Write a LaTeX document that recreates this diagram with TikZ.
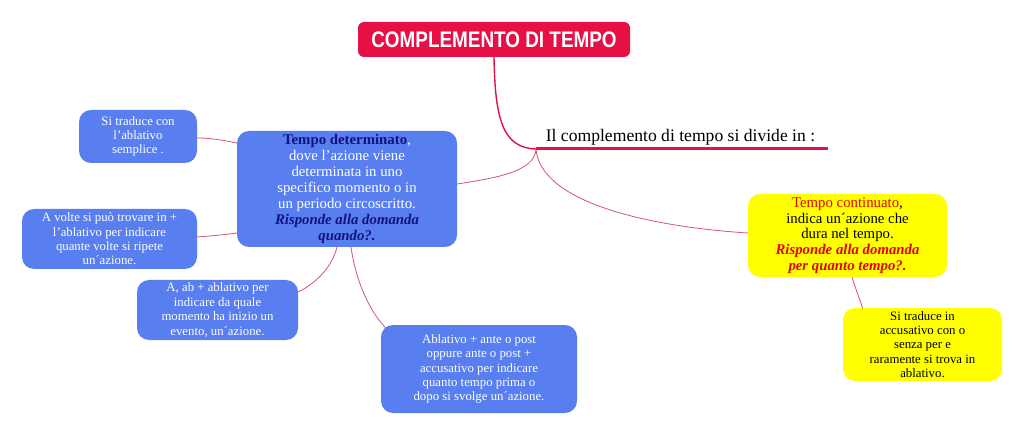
\documentclass[tikz,border=0pt]{standalone}
\usepackage{fontspec}
\setmainfont{Liberation Serif}
\newfontfamily\titlefont[FakeStretch=0.84]{Liberation Sans}
\usetikzlibrary{calc}
\definecolor{boxblue}{RGB}{88,126,240}
\definecolor{titlered}{RGB}{230,16,70}
\definecolor{linkred}{RGB}{214,84,112}
\definecolor{navy}{RGB}{18,18,128}
\definecolor{ylw}{RGB}{255,255,0}
\definecolor{txtred}{RGB}{228,0,0}
\newcommand{\navybi}[1]{\textcolor{navy}{\textbf{\textit{#1}}}}
\newcommand{\redbi}[1]{\textcolor{txtred}{\textbf{\textit{#1}}}}
\tikzset{
  bluebox/.style={fill=boxblue, rounded corners=12pt, text=white, align=center, inner sep=0pt},
  ylwbox/.style={fill=ylw, rounded corners=12pt, text=black, align=center, inner sep=0pt},
  link/.style={draw=linkred, line width=0.8pt},
  small/.style={font=\fontsize{12.8}{14.4}\selectfont},
  big/.style={font=\fontsize{14.8}{16}\selectfont}
}
\begin{document}
\begin{tikzpicture}[x=1pt,y=-1pt]
\useasboundingbox (0,0) rectangle (1024,435);
% title
\node[fill=titlered, rounded corners=6pt, minimum width=272pt, minimum height=35pt, inner sep=0pt,
  text=white, font=\titlefont\bfseries\fontsize{22.5}{24}\selectfont] (title) at (494,39.5) {COMPLEMENTO DI TEMPO};
% header
\coordinate (J) at (536,149);
\coordinate (U) at (828,149);
\node[font=\fontsize{17.6}{20}\selectfont, anchor=base, inner sep=0pt] (head) at (680.5,142) {Il complemento di tempo si divide in :};
\draw[draw=titlered, line width=3pt] (J) -- (U);
\draw[draw=titlered, line width=1.4pt] (title.south) .. controls (495,120) and (503,148) .. (J);
% main blue
\node[bluebox, minimum width=220pt, minimum height=116pt, big] (main) at (347,189)
 {\textcolor{navy}{\textbf{Tempo determinato}},\\ dove l’azione viene\\ determinata in uno\\ specifico momento o in\\ un periodo circoscritto.\\ \navybi{Risponde alla domanda}\\ \navybi{quando?.}};
% left boxes
\node[bluebox, minimum width=118pt, minimum height=53pt, small] (b1) at (138,136.5)
 {Si traduce con\\ l’ablativo\\ semplice .};
\node[bluebox, minimum width=175pt, minimum height=60pt, small] (b2) at (109.5,239)
 {A volte si può trovare in +\\ l’ablativo per indicare\\ quante volte si ripete\\ un´azione.};
\node[bluebox, minimum width=161pt, minimum height=60pt, small] (b3) at (217.5,310)
 {A, ab + ablativo per\\ indicare da quale\\ momento ha inizio un\\ evento, un´azione.};
\node[bluebox, minimum width=196pt, minimum height=88pt, small] (b4) at (479,369)
 {Ablativo + ante o post\\ oppure ante o post +\\ accusativo per indicare\\ quanto tempo prima o\\ dopo si svolge un´azione.};
% yellow
\node[ylwbox, minimum width=199pt, minimum height=83pt, font=\fontsize{14.8}{15.8}\selectfont] (y1) at (847.5,235.5)
 {\textcolor{txtred}{Tempo continuato},\\ indica un´azione che\\ dura nel tempo.\\ \redbi{Risponde alla domanda}\\ \redbi{per quanto tempo?.}};
\node[ylwbox, minimum width=159pt, minimum height=73pt, small] (y2) at (922.5,344.5)
 {Si traduce in\\ accusativo con o\\ senza per e\\ raramente si trova in\\ ablativo.};
% connectors
\draw[link] (J) .. controls (535,172) and (495,178) .. ($(main.east)+(0,-5)$);
\draw[link] (J) .. controls (540,200) and (640,226) .. ($(y1.west)+(0,-2.5)$);
\draw[link] ($(main.west)+(0,-46)$) .. controls (222,140) and (210,138) .. ($(b1.east)+(0,1.5)$);
\draw[link] ($(main.west)+(0,44)$) .. controls (222,235) and (210,236) .. ($(b2.east)+(0,-2)$);
\draw[link] ($(main.south)+(-10,0)$) .. controls (332,266) and (318,282) .. ($(b3.east)+(0,-18)$);
\draw[link] ($(main.south)+(4,0)$) .. controls (356,282) and (370,312) .. ($(b4.west)+(5,-41)$);
\draw[link] ($(y1.south)+(4.5,0)$) .. controls (856,290) and (860,300) .. ($(y2.north)+(-60,0)$);
\end{tikzpicture}
\end{document}
